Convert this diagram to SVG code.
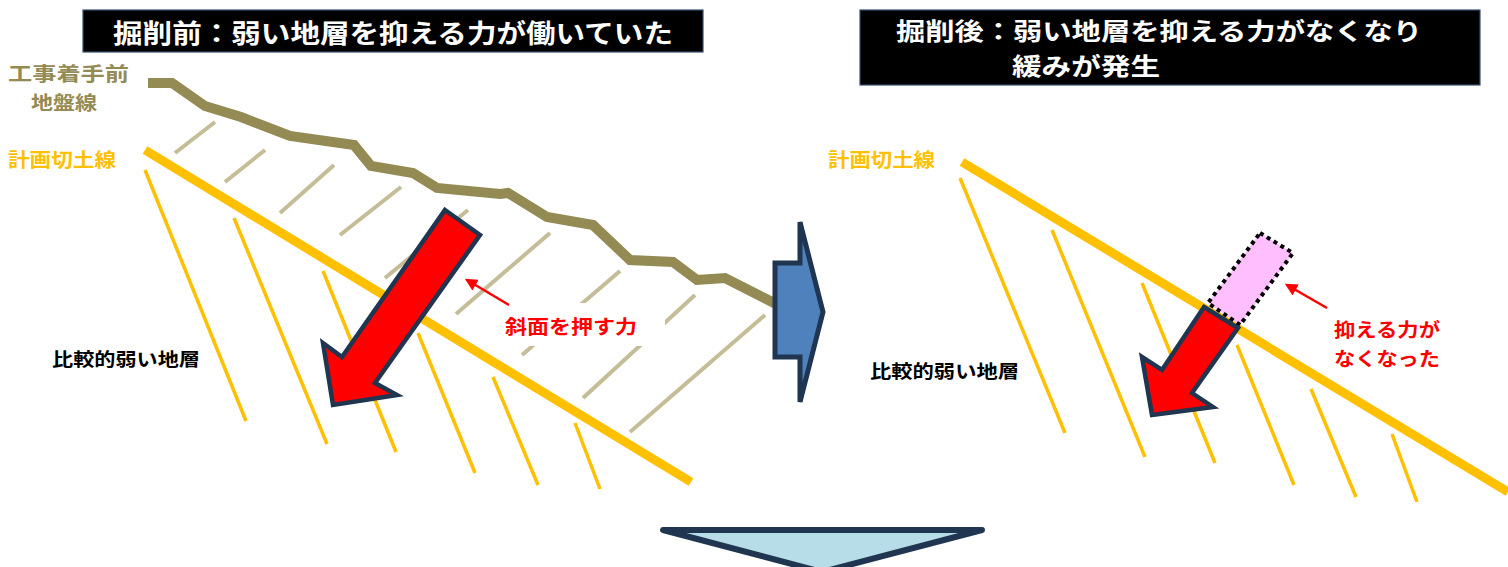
<svg xmlns="http://www.w3.org/2000/svg" width="1508" height="567" viewBox="0 0 1508 567">
  <defs>
    <style>
      text { font-family: "Noto Sans CJK JP", "Noto Sans", sans-serif; font-weight: bold; dominant-baseline: central; }
      .title-box { fill: #000000; stroke: #34506E; stroke-width: 1.2; }
      .title { fill: #FFFFFF; font-size: 26px; }
      .title-2 { fill: #FFFFFF; font-size: 24px; }
      .lbl-olive { fill: #948A54; font-size: 19px; }
      .lbl-gold { fill: #FFC000; font-size: 19px; }
      .lbl-black { fill: #000000; font-size: 18px; }
      .lbl-red { fill: #FF0000; font-size: 19px; }
      .ground { fill: none; stroke: #948A54; stroke-width: 10; stroke-linejoin: miter; }
      .hatch { stroke: #C4BD97; stroke-width: 4; }
      .cutline { stroke: #FFC000; stroke-width: 9; }
      .stratum { stroke: #FFC000; stroke-width: 3.5; }
      .force { fill: #FF0000; stroke: #1F3550; stroke-width: 4.5; stroke-linejoin: miter; }
      .lost { fill: #FFBFFF; stroke: #000000; stroke-width: 4; stroke-dasharray: 4 4; }
      .pointer { stroke: #FF0000; stroke-width: 2.5; marker-end: url(#redHead); }
      .flow-right { fill: #4F81BD; stroke: #1F3550; stroke-width: 5; stroke-linejoin: miter; }
      .flow-down { fill: #B7DDE8; stroke: #1F3550; stroke-width: 6; stroke-linejoin: round; }
    </style>
    <marker id="redHead" viewBox="0 0 10 10" refX="8" refY="5" markerWidth="5" markerHeight="5" orient="auto" markerUnits="strokeWidth">
      <path d="M0,0 L10,5 L0,10 z" fill="#FF0000"/>
    </marker>
  </defs>

  <rect width="1508" height="567" fill="#FFFFFF"/>

  <!-- Before excavation -->
  <g id="before-title">
    <rect class="title-box" x="83" y="10" width="620" height="42"/>
    <text class="title" x="113" y="31" textLength="560" lengthAdjust="spacingAndGlyphs">掘削前：弱い地層を抑える力が働いていた</text>
  </g>

  <g id="before-soil-hatch">
    <line class="hatch" x1="175" y1="153" x2="215" y2="122"/>
    <line class="hatch" x1="225" y1="182" x2="265" y2="150"/>
    <line class="hatch" x1="280" y1="213" x2="334" y2="165"/>
    <line class="hatch" x1="340" y1="235" x2="401" y2="187"/>
    <line class="hatch" x1="385" y1="278" x2="468" y2="210"/>
    <line class="hatch" x1="456" y1="314" x2="550" y2="233"/>
    <line class="hatch" x1="522" y1="355" x2="620" y2="271"/>
    <line class="hatch" x1="583" y1="398" x2="695" y2="295"/>
    <line class="hatch" x1="630" y1="432" x2="765" y2="315"/>
  </g>

  <g id="before-ground-line">
    <polyline class="ground" points="148,83 172,83 205,106 241,117 290,136 354,145 371,166 413,173 437,188 500,194 508,193 547,217 593,225 630,260 673,262 697,280 725,278 780,306"/>
  </g>

  <g id="before-labels">
    <text class="lbl-olive" x="8" y="72" textLength="121" lengthAdjust="spacingAndGlyphs">工事着手前</text>
    <text class="lbl-olive" x="31" y="101" textLength="66" lengthAdjust="spacingAndGlyphs">地盤線</text>
    <text class="lbl-gold" x="8" y="158" textLength="108" lengthAdjust="spacingAndGlyphs">計画切土線</text>
    <text class="lbl-black" x="52" y="358" textLength="148" lengthAdjust="spacingAndGlyphs">比較的弱い地層</text>
  </g>

  <g id="before-strata">
    <line class="cutline" x1="145" y1="150" x2="691" y2="482"/>
    <line class="stratum" x1="145" y1="170" x2="246" y2="421"/>
    <line class="stratum" x1="234" y1="218" x2="327" y2="444"/>
    <line class="stratum" x1="323" y1="271" x2="396" y2="452"/>
    <line class="stratum" x1="418" y1="333" x2="475" y2="473"/>
    <line class="stratum" x1="493" y1="377" x2="538" y2="485"/>
    <line class="stratum" x1="575" y1="423" x2="600" y2="489"/>
  </g>

  <g id="before-force-label">
    <rect x="492" y="303" width="173" height="43" fill="#FFFFFF"/>
    <text class="lbl-red" x="505" y="325" textLength="132" lengthAdjust="spacingAndGlyphs">斜面を押す力</text>
  </g>

  <g id="before-force-arrow">
    <polygon class="force" points="445,210 480,235 375,383 397,395 333,405 323,343 342,357"/>
  </g>

  <!-- After excavation -->
  <g id="after-title">
    <rect class="title-box" x="860" y="10" width="620" height="75"/>
    <text class="title-2" x="896" y="29" textLength="526" lengthAdjust="spacingAndGlyphs">掘削後：弱い地層を抑える力がなくなり</text>
    <text class="title-2" x="1012" y="64" textLength="148" lengthAdjust="spacingAndGlyphs">緩みが発生</text>
  </g>

  <g id="after-labels">
    <text class="lbl-gold" x="828" y="158" textLength="107" lengthAdjust="spacingAndGlyphs">計画切土線</text>
    <text class="lbl-black" x="870" y="370" textLength="149" lengthAdjust="spacingAndGlyphs">比較的弱い地層</text>
    <text class="lbl-red" x="1334" y="328" textLength="106" lengthAdjust="spacingAndGlyphs">抑える力が</text>
    <text class="lbl-red" x="1334" y="357" textLength="106" lengthAdjust="spacingAndGlyphs">なくなった</text>
  </g>

  <g id="after-strata">
    <line class="cutline" x1="962" y1="162" x2="1508" y2="492"/>
    <line class="stratum" x1="960" y1="178" x2="1065" y2="433"/>
    <line class="stratum" x1="1052" y1="230" x2="1145" y2="457"/>
    <line class="stratum" x1="1142" y1="283" x2="1215" y2="463"/>
    <line class="stratum" x1="1237" y1="345" x2="1294" y2="485"/>
    <line class="stratum" x1="1311" y1="389" x2="1356" y2="497"/>
    <line class="stratum" x1="1392" y1="434" x2="1417" y2="502"/>
  </g>

  <g id="after-lost-support">
    <polygon class="lost" points="1260,233 1293,253 1240,325 1208,303"/>
  </g>

  <g id="after-force-arrow">
    <polygon class="force" points="1204,307 1238,328 1192,393 1213,407 1152,415 1142,357 1162,370"/>
  </g>

  <!-- Pointers and flow arrows -->
  <g id="connectors">
    <line class="pointer" x1="509" y1="305" x2="467" y2="280"/>
    <line class="pointer" x1="1327" y1="308" x2="1287" y2="285"/>
    <polygon class="flow-right" points="775,263 800,263 800,222 823,312 800,402 800,357 775,357"/>
    <polygon class="flow-down" points="663,530 982,530 822,572"/>
  </g>
</svg>
